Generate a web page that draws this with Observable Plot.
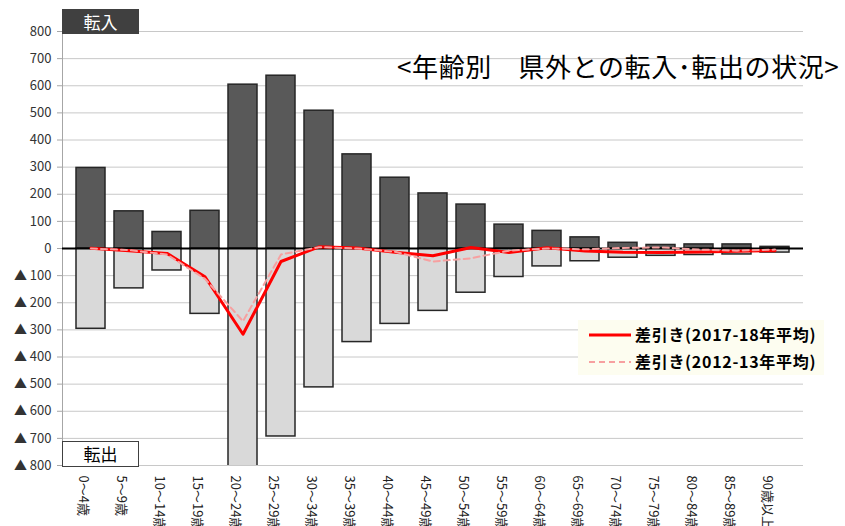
<!DOCTYPE html>
<html>
<head>
<meta charset="utf-8">
<script src="https://cdn.jsdelivr.net/npm/d3@7"></script>
<script src="https://cdn.jsdelivr.net/npm/@observablehq/plot@0.6"></script>
<style>
  body { margin: 0; background: #fff; font-family: "Noto Sans CJK JP", "Noto Sans", sans-serif; }
  #wrap { position: relative; width: 845px; height: 526px; overflow: hidden; }
  .title { position: absolute; left: 397px; top: 47px; font-size: 26px; color: #000; white-space: nowrap; letter-spacing: 0.6px; }
  .boxIn { position: absolute; left: 62px; top: 9px; width: 77px; height: 25px; background: #404040; color: #fff; font-size: 17px; line-height: 25px; text-align: center; }
  .boxOut { position: absolute; left: 62px; top: 441px; width: 75px; height: 24px; background: #fff; border: 1.5px solid #404040; color: #000; font-size: 17px; line-height: 24px; text-align: center; }
  .legend { position: absolute; left: 578px; top: 320px; width: 246px; height: 55px; background: #fdfdf0; }
  .legend .row { position: absolute; left: 0; height: 20px; font-size: 16px; font-weight: bold; color: #000; white-space: nowrap; letter-spacing: 0.7px; }
  .legend svg { position: absolute; left: 10px; top: 6px; }
  .legend span { position: absolute; left: 57px; top: -1px; line-height: 20px; }
</style>
</head>
<body>
<div id="wrap"></div>
<script>
const ages = ["0～4歳","5～9歳","10～14歳","15～19歳","20～24歳","25～29歳","30～34歳","35～39歳","40～44歳","45～49歳","50～54歳","55～59歳","60～64歳","65～69歳","70～74歳","75～79歳","80～84歳","85～89歳","90歳以上"];
const inflow  = [297, 137, 61, 139, 604, 637, 508, 347, 261, 203, 162, 88, 65, 41, 21, 13, 15, 15, 6];
const outflow = [-296, -147, -81, -241, -880, -693, -512, -345, -278, -230, -163, -105, -66, -47, -34, -27, -24, -22, -15];
const net1718 = [1, -8, -18, -104, -316, -48, 6, 2, -14, -27, 4, -15, 3, -9, -14, -15, -13, -10, -8];
const net1213 = [0, -6, -22, -112, -268, -22, 5, 0, -12, -48, -36, -8, 0, -3, 2, 4, -4, -8, -4];
const yTicks = [800,700,600,500,400,300,200,100,0,-100,-200,-300,-400,-500,-600,-700,-800];

const inData = ages.map((a, i) => ({age: a, v: inflow[i]}));
const outData = ages.map((a, i) => ({age: a, v: outflow[i]}));
const n1 = ages.map((a, i) => ({age: a, v: net1718[i]}));
const n2 = ages.map((a, i) => ({age: a, v: net1213[i]}));

const chart = Plot.plot({
  width: 845,
  height: 526,
  marginLeft: 62,
  marginRight: 42,
  marginTop: 31,
  marginBottom: 61,
  style: {fontFamily: '"Noto Sans CJK JP", sans-serif', fontSize: "13px", color: "#404040", background: "#fff"},
  x: {domain: ages, padding: 0.24, label: null},
  y: {domain: [-800, 800], label: null},
  marks: [
    Plot.gridY(yTicks, {stroke: "#c8c8c8", strokeOpacity: 1, strokeWidth: 1}),
    Plot.frame({anchor: "left", stroke: "#a6a6a6"}),
    Plot.axisY(yTicks, {tickSize: 5, tickPadding: 6, stroke: "#a6a6a6", fontSize: 13, fill: "#333",
      tickFormat: d => d < 0 ? "▲ " + (-d) : String(d)}),
    Plot.axisX({tickSize: 0, tickPadding: 10, tickRotate: 90, fontSize: 13, fill: "#222", dx: -8}),
    Plot.barY(inData, {x: "age", y: "v", fill: "#595959", stroke: "#262626", strokeWidth: 1.5}),
    Plot.barY(outData, {x: "age", y: "v", fill: "#d9d9d9", stroke: "#262626", strokeWidth: 1.5, clip: true}),
    Plot.ruleY([0], {stroke: "#000", strokeWidth: 2}),
    Plot.lineY(n1, {x: "age", y: "v", stroke: "#ff0000", strokeWidth: 3}),
    Plot.lineY(n2, {x: "age", y: "v", stroke: "#f7a0a0", strokeWidth: 2, strokeDasharray: "6,4"})
  ]
});

const wrap = document.getElementById("wrap");
wrap.appendChild(chart);

const add = (cls, html) => { const d = document.createElement("div"); d.className = cls; d.innerHTML = html; wrap.appendChild(d); return d; };
add("title", "&lt;年齢別　県外との転入･転出の状況&gt;");
add("boxIn", "転入");
add("boxOut", "転出");
add("legend",
  '<div class="row" style="top:5px"><svg width="44" height="8"><line x1="1" y1="4" x2="43" y2="4" stroke="#ff0000" stroke-width="3"/></svg><span>差引き(2017-18年平均)</span></div>' +
  '<div class="row" style="top:32px"><svg width="44" height="8"><line x1="1" y1="4" x2="43" y2="4" stroke="#f7a0a0" stroke-width="2" stroke-dasharray="6,4"/></svg><span>差引き(2012-13年平均)</span></div>');
</script>
</body>
</html>
